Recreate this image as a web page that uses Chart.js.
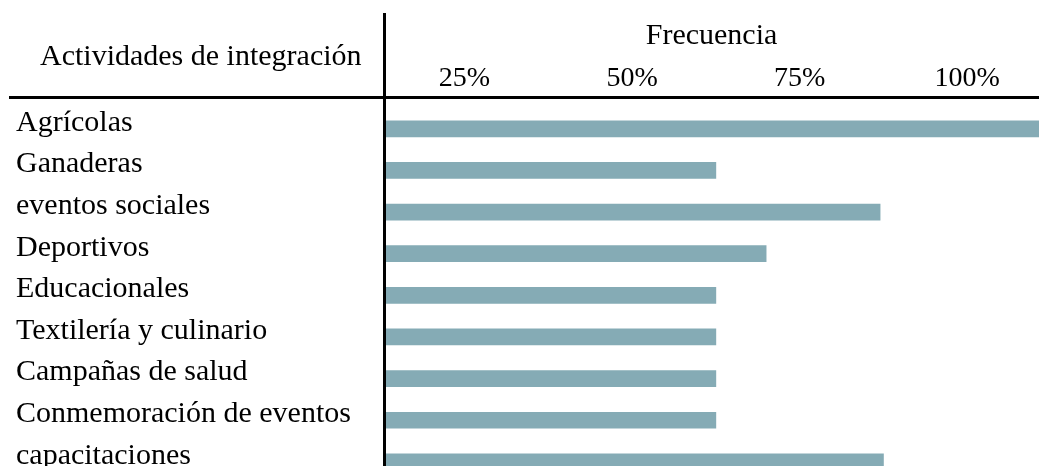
<!DOCTYPE html>
<html>
<head>
<meta charset="utf-8">
<script src="https://cdn.jsdelivr.net/npm/chart.js"></script>
<style>
  body { margin: 0; background: #fff; overflow: hidden; }
</style>
</head>
<body>
<canvas id="freqChart" width="1039" height="466"></canvas>
<script>
const categories = ['Agrícolas', 'Ganaderas', 'eventos sociales', 'Deportivos', 'Educacionales',
  'Textilería y culinario', 'Campañas de salud', 'Conmemoración de eventos', 'capacitaciones'];
const frecuencia = [112.5, 62.5, 87, 70, 62.5, 62.5, 62.5, 62.5, 87.5];
const tickValues = [25, 50, 75, 100];

const serif = '"Liberation Serif", "Times New Roman", serif';

// table-like rules and left header
const headerLines = {
  id: 'headerLines',
  afterDraw(chart) {
    const ctx = chart.ctx;
    const area = chart.chartArea;
    ctx.save();
    ctx.fillStyle = '#000';
    ctx.fillRect(9, 96, chart.width - 9, 3);
    ctx.fillRect(area.left - 1, 13, 3, chart.height - 13);
    ctx.font = '30px ' + serif;
    ctx.textBaseline = 'alphabetic';
    ctx.textAlign = 'left';
    ctx.fillText('Actividades de integración', 40, 65);
    ctx.restore();
  }
};

// rows are indexed on a linear axis so the last row can run past the bottom edge
const rows = frecuencia.map((v, i) => ({ x: v, y: i }));

new Chart(document.getElementById('freqChart').getContext('2d'), {
  type: 'bar',
  data: {
    datasets: [{
      data: rows,
      backgroundColor: '#85abb5',
      borderWidth: 0,
      barThickness: 16
    }]
  },
  options: {
    indexAxis: 'y',
    responsive: false,
    animation: false,
    devicePixelRatio: 1,
    layout: { padding: { left: 16, top: 0, right: 0, bottom: 0 } },
    plugins: { legend: { display: false }, tooltip: { enabled: false } },
    scales: {
      x: {
        position: 'top',
        min: 13,
        max: 110.7,
        grid: { display: false, drawTicks: false },
        border: { display: false },
        afterBuildTicks: s => { s.ticks = tickValues.map(v => ({ value: v })); },
        afterFit: s => { s.height = 108; },
        ticks: {
          padding: 13,
          autoSkip: false,
          maxRotation: 0,
          color: '#000',
          font: { family: serif, size: 28 },
          callback: v => v + '%'
        },
        title: {
          display: true,
          text: 'Frecuencia',
          color: '#000',
          font: { family: serif, size: 30 },
          padding: { top: 18, bottom: 0 }
        }
      },
      y: {
        type: 'linear',
        reverse: true,
        offset: false,
        min: -0.5,
        max: 8.1,
        grid: { display: false, drawTicks: false },
        border: { display: false },
        afterBuildTicks: s => { s.ticks = categories.map((c, i) => ({ value: i })); },
        afterFit: s => {
          s.width = 368;
          s.paddingTop = 0;
          s.paddingBottom = 0;
        },
        ticks: {
          crossAlign: 'far',
          labelOffset: -6,
          padding: 0,
          autoSkip: false,
          color: '#000',
          font: { family: serif, size: 30 },
          callback: v => categories[v]
        }
      }
    }
  },
  plugins: [headerLines]
});
</script>
</body>
</html>
